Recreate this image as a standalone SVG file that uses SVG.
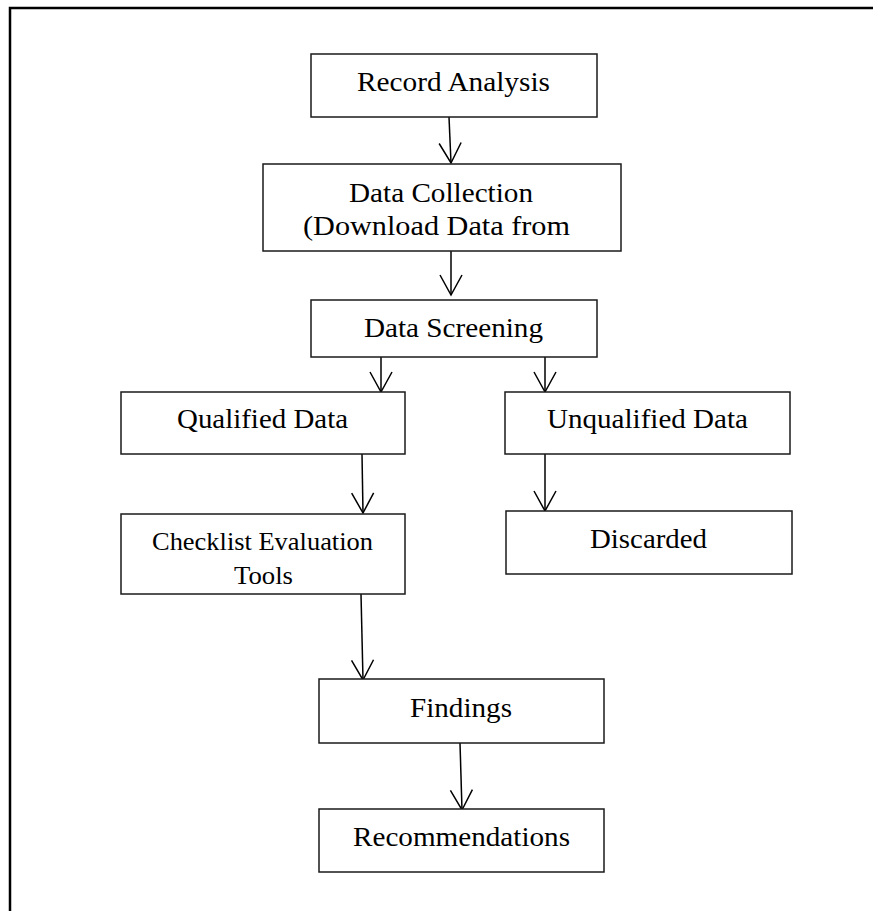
<svg xmlns="http://www.w3.org/2000/svg" width="873" height="911" viewBox="0 0 873 911">
<style>
.box{fill:#fff;stroke:#1a1a1a;stroke-width:1.5}
.lbl{font-family:"Liberation Serif","Times New Roman",serif;font-size:28px;fill:#000;text-anchor:middle}
.con{stroke:#000;stroke-width:1.5;fill:none}
.frame{stroke:#000;stroke-width:2.5;fill:none}
</style>
<defs>
<marker id="arr" markerUnits="userSpaceOnUse" markerWidth="24" markerHeight="26" viewBox="-22 -13 24 26" refX="0" refY="0" orient="auto">
<path d="M-20,-11 L0,0 L-20,11" fill="none" stroke="#000" stroke-width="1.5"/>
</marker>
</defs>
<rect width="873" height="911" fill="#fff"/>
<path class="frame" d="M10,911 L10,8 L873,8"/>
<g id="connectors">
<line class="con" x1="449" y1="117" x2="451" y2="163" marker-end="url(#arr)"/>
<line class="con" x1="451" y1="251" x2="451" y2="295" marker-end="url(#arr)"/>
<line class="con" x1="381" y1="357" x2="381" y2="392" marker-end="url(#arr)"/>
<line class="con" x1="545" y1="357" x2="545" y2="392" marker-end="url(#arr)"/>
<line class="con" x1="362" y1="454" x2="363" y2="513" marker-end="url(#arr)"/>
<line class="con" x1="545" y1="454" x2="545" y2="511" marker-end="url(#arr)"/>
<line class="con" x1="361" y1="594" x2="363" y2="680" marker-end="url(#arr)"/>
<line class="con" x1="460" y1="743" x2="462" y2="810" marker-end="url(#arr)"/>
</g>
<g id="record-analysis">
<rect class="box" x="311" y="54" width="286" height="63"/>
<text class="lbl" x="453.5" y="91" textLength="193" lengthAdjust="spacingAndGlyphs">Record Analysis</text>
</g>
<g id="data-collection">
<rect class="box" x="263" y="164" width="358" height="87"/>
<text class="lbl" x="441" y="202" textLength="184" lengthAdjust="spacingAndGlyphs">Data Collection</text>
<text class="lbl" x="436.5" y="235" textLength="267" lengthAdjust="spacingAndGlyphs">(Download Data from</text>
</g>
<g id="data-screening">
<rect class="box" x="311" y="300" width="286" height="57"/>
<text class="lbl" x="453.5" y="337" textLength="179" lengthAdjust="spacingAndGlyphs">Data Screening</text>
</g>
<g id="qualified-data">
<rect class="box" x="121" y="392" width="284" height="62"/>
<text class="lbl" x="262.5" y="428" textLength="171" lengthAdjust="spacingAndGlyphs">Qualified Data</text>
</g>
<g id="unqualified-data">
<rect class="box" x="505" y="392" width="285" height="62"/>
<text class="lbl" x="647.5" y="428" textLength="201" lengthAdjust="spacingAndGlyphs">Unqualified Data</text>
</g>
<g id="checklist">
<rect class="box" x="121" y="514" width="284" height="80"/>
<text class="lbl" x="262.5" y="550" textLength="221" lengthAdjust="spacingAndGlyphs" style="font-size:26px">Checklist Evaluation</text>
<text class="lbl" x="263.5" y="584" textLength="59" lengthAdjust="spacingAndGlyphs" style="font-size:26px">Tools</text>
</g>
<g id="discarded">
<rect class="box" x="506" y="511" width="286" height="63"/>
<text class="lbl" x="648.5" y="548" textLength="117" lengthAdjust="spacingAndGlyphs">Discarded</text>
</g>
<g id="findings">
<rect class="box" x="319" y="679" width="285" height="64"/>
<text class="lbl" x="461" y="717" textLength="102" lengthAdjust="spacingAndGlyphs">Findings</text>
</g>
<g id="recommendations">
<rect class="box" x="319" y="809" width="285" height="63"/>
<text class="lbl" x="461.5" y="846" textLength="217" lengthAdjust="spacingAndGlyphs">Recommendations</text>
</g>
</svg>
